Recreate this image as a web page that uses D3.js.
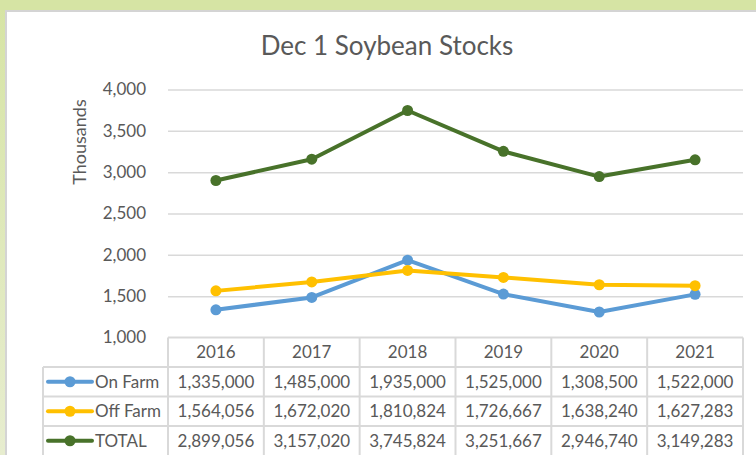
<!doctype html>
<html>
<head>
<script src="https://d3js.org/d3.v7.min.js"></script>
<style>
  body { margin: 0; background: #fff; }
  svg { display: block; }
</style>
</head>
<body>
<svg width="756" height="455" id="chart"></svg>
<script>
  // data
  var years = ["2016", "2017", "2018", "2019", "2020", "2021"];
  var onFarm = [1335000, 1485000, 1935000, 1525000, 1308500, 1522000];
  var offFarm = [1564056, 1672020, 1810824, 1726667, 1638240, 1627283];
  var total = [2899056, 3157020, 3745824, 3251667, 2946740, 3149283];
  var seriesNames = ["On Farm", "Off Farm", "TOTAL"];
  var seriesColors = ["#5b9bd5", "#ffc000", "#48722a"];
  var yTicks = [1000, 1500, 2000, 2500, 3000, 3500, 4000];

  var allSeries = [onFarm, offFarm, total];
  var font = "Lato, 'Noto Sans', sans-serif";
  var textColor = "#595959";

  var svg = d3.select("#chart");

  // background frame
  var defs = svg.append("defs");
  var grad = defs.append("linearGradient").attr("id", "side")
    .attr("x1", 0).attr("y1", 0).attr("x2", 0).attr("y2", 1);
  grad.append("stop").attr("offset", "0%").attr("stop-color", "#d6e4a4");
  grad.append("stop").attr("offset", "100%").attr("stop-color", "#e7edcf");

  svg.append("rect").attr("x", 0).attr("y", 0).attr("width", 756).attr("height", 455)
    .attr("fill", "url(#side)");
  svg.append("rect").attr("x", 0).attr("y", 0).attr("width", 756).attr("height", 11)
    .attr("fill", "#d6e4a4");
  svg.append("rect").attr("x", 6).attr("y", 11).attr("width", 752).attr("height", 446)
    .attr("fill", "#fff").attr("stroke", "#d4d4d4").attr("stroke-width", 2);

  var plotLeft = 168, plotRight = 743, plotTop = 89.5, plotBottom = 337.5;

  var x = d3.scaleBand().domain(years).range([plotLeft, plotRight]);
  var y = d3.scaleLinear().domain([1000, 4000]).range([plotBottom, plotTop]);

  // title
  svg.append("text")
    .attr("x", 387).attr("y", 55)
    .attr("text-anchor", "middle")
    .attr("font-family", font).attr("font-size", "26px")
    .attr("fill", textColor)
    .text("Dec 1 Soybean Stocks");

  // gridlines
  svg.append("g")
    .attr("transform", "translate(" + plotLeft + ",0)")
    .call(d3.axisLeft(y).tickValues(yTicks.slice(1)).tickSize(-(plotRight - plotLeft)).tickFormat(""))
    .call(function(g) {
      g.select(".domain").remove();
      g.selectAll("line").attr("stroke", "#d9d9d9").attr("stroke-width", 1.5);
    });

  // y tick labels
  svg.append("g")
    .attr("transform", "translate(146,0)")
    .call(d3.axisLeft(y).tickValues(yTicks).tickSize(0).tickPadding(0).tickFormat(d3.format(",")))
    .call(function(g) {
      g.select(".domain").remove();
      g.selectAll("text")
        .attr("font-family", font).attr("font-size", "17px")
        .attr("fill", textColor);
    });

  // y axis label
  svg.append("text")
    .attr("transform", "translate(86,142) rotate(-90)")
    .attr("text-anchor", "middle")
    .attr("font-family", font).attr("font-size", "18px")
    .attr("fill", textColor)
    .text("Thousands");

  // lines
  var line = d3.line()
    .x(function(d, i) { return x(years[i]) + x.bandwidth() / 2; })
    .y(function(d) { return y(d / 1000); });

  allSeries.forEach(function(s, k) {
    svg.append("path")
      .datum(s)
      .attr("d", line)
      .attr("fill", "none")
      .attr("stroke", seriesColors[k])
      .attr("stroke-width", 4)
      .attr("stroke-linejoin", "round");
    svg.selectAll(".pt" + k)
      .data(s)
      .enter().append("circle")
      .attr("class", "pt" + k)
      .attr("cx", function(d, i) { return x(years[i]) + x.bandwidth() / 2; })
      .attr("cy", function(d) { return y(d / 1000); })
      .attr("r", 5.5)
      .attr("fill", seriesColors[k]);
  });

  // data table
  var rowH = 29.5;
  var headTop = plotBottom, tableLeft = 43;
  var grid = svg.append("g").attr("stroke", "#d9d9d9").attr("stroke-width", 2);

  // horizontal lines
  grid.append("line").attr("x1", plotLeft).attr("x2", plotRight).attr("y1", headTop).attr("y2", headTop);
  for (var r = 1; r <= 3; r++) {
    grid.append("line").attr("x1", tableLeft).attr("x2", plotRight)
      .attr("y1", headTop + r * rowH).attr("y2", headTop + r * rowH);
  }
  // vertical lines
  grid.append("line").attr("x1", tableLeft).attr("x2", tableLeft)
    .attr("y1", headTop + rowH).attr("y2", 456);
  years.forEach(function(yr) {
    grid.append("line").attr("x1", x(yr)).attr("x2", x(yr))
      .attr("y1", headTop).attr("y2", 456);
  });
  grid.append("line").attr("x1", plotRight).attr("x2", plotRight)
    .attr("y1", headTop).attr("y2", 456);

  // header
  svg.selectAll(".yr")
    .data(years)
    .enter().append("text")
    .attr("class", "yr")
    .attr("x", function(d) { return x(d) + x.bandwidth() / 2; })
    .attr("y", headTop + rowH / 2 + 6)
    .attr("text-anchor", "middle")
    .attr("font-family", font).attr("font-size", "17px")
    .attr("fill", textColor)
    .text(function(d) { return d; });

  // rows
  allSeries.forEach(function(s, k) {
    var cy = headTop + (k + 1) * rowH + rowH / 2;
    svg.append("line")
      .attr("x1", 48).attr("x2", 92).attr("y1", cy).attr("y2", cy)
      .attr("stroke", seriesColors[k]).attr("stroke-width", 4).attr("stroke-linecap", "round");
    svg.append("circle").attr("cx", 70).attr("cy", cy).attr("r", 5.5).attr("fill", seriesColors[k]);
    svg.append("text")
      .attr("x", 95).attr("y", cy + 6)
      .attr("font-family", font).attr("font-size", "17px")
      .attr("fill", textColor)
      .text(seriesNames[k]);
    svg.selectAll(".v" + k)
      .data(s)
      .enter().append("text")
      .attr("class", "v" + k)
      .attr("x", function(d, i) { return x(years[i]) + x.bandwidth() / 2; })
      .attr("y", cy + 6)
      .attr("text-anchor", "middle")
      .attr("font-family", font).attr("font-size", "17px")
      .attr("fill", textColor)
      .text(function(d) { return d3.format(",")(d); });
  });
</script>
</body>
</html>
